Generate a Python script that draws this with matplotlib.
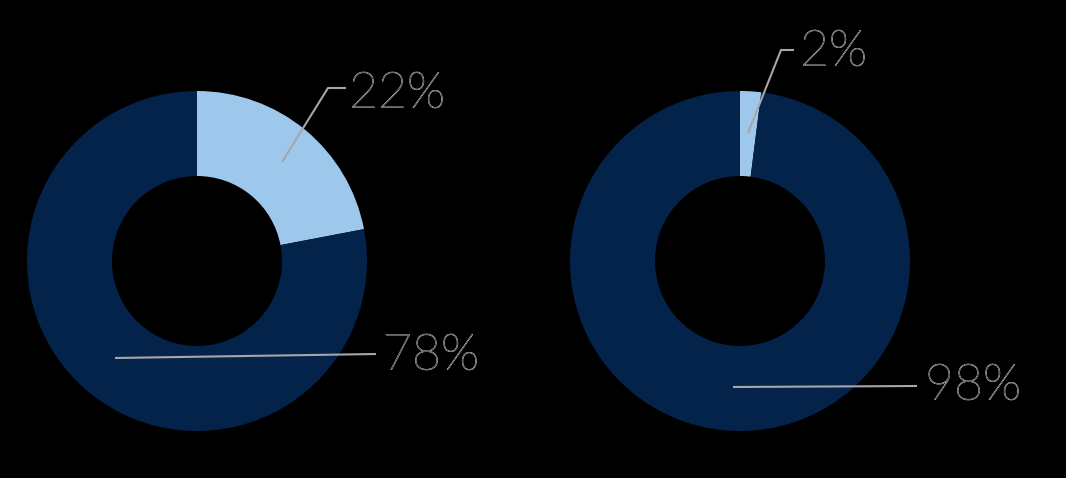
import matplotlib.pyplot as plt
import matplotlib.patheffects as pe

# values of the two donuts (light part first, clockwise from the top)
left_values = [22, 78]
right_values = [2, 98]
colors = ['#9dc8eb', '#03234b']

W, H = 1066, 478
fig = plt.figure(figsize=(W / 100, H / 100), dpi=100, facecolor='black')
ax = fig.add_axes([0, 0, 1, 1])
ax.set_facecolor('black')

# donuts (pixel coordinates, y measured from the bottom)
for vals, cx in [(left_values, 197), (right_values, 740)]:
    ax.pie(vals, colors=colors, startangle=90, counterclock=False,
           center=(cx, H - 261), radius=170, frame=True,
           wedgeprops=dict(width=85, linewidth=0))
ax.set_xlim(0, W)
ax.set_ylim(0, H)
ax.set_aspect('equal')
ax.axis('off')

line_col = '#a6a6a6'
txt_fx = [pe.withStroke(linewidth=0.6, foreground='#d8d8d8')]


def label(points, text_xy, value):
    xs = [p[0] for p in points]
    ys = [H - p[1] for p in points]
    ax.plot(xs, ys, color=line_col, lw=1.5, solid_capstyle='butt')
    ax.text(text_xy[0], H - text_xy[1], f'{value}%', color='black',
            fontsize=36, family='Lato', fontweight='light',
            va='center', ha='left', path_effects=txt_fx)


label([(282, 162), (328, 88), (346, 88)], (349, 94), left_values[0])
label([(115, 358), (376, 354)], (383, 356), left_values[1])
label([(748, 133), (781, 50), (794, 50)], (800, 52), right_values[0])
label([(733, 387), (917, 386)], (925, 386), right_values[1])

fig.savefig('out.png', dpi=100, facecolor='black')
